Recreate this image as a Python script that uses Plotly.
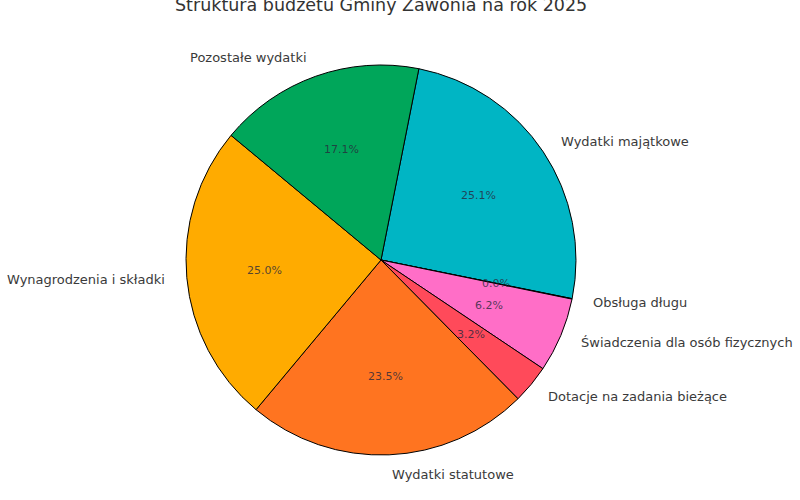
import math
import plotly.graph_objects as go

title = "Struktura budżetu Gminy Zawonia na rok 2025"
categories = ["Wydatki majątkowe", "Obsługa długu", "Świadczenia dla osób fizycznych",
              "Dotacje na zadania bieżące", "Wydatki statutowe", "Wynagrodzenia i składki",
              "Pozostałe wydatki"]
shares = [25.1, 0.04, 6.2, 3.2, 23.5, 25.0, 17.1]
colors = ["#00B5C4", "#2E2E6E", "#FF6EC7", "#FF4A5A", "#FF7420", "#FFAB00", "#00A65A"]

W, H = 800, 500
cx, cy, R = 381, 260, 195
start = 11.2  # degrees clockwise from 12 o'clock

fig = go.Figure(go.Pie(
    labels=categories, values=shares, sort=False, direction="clockwise",
    rotation=start, textinfo="none", hoverinfo="label+percent",
    marker=dict(colors=colors, line=dict(color="#000000", width=1)),
    domain=dict(x=[(cx - R) / W, (cx + R) / W], y=[1 - (cy + R) / H, 1 - (cy - R) / H]),
    showlegend=False,
))

total = sum(shares)
annotations = []
acc = start
for name, v in zip(categories, shares):
    ang = v / total * 360
    mid = math.radians(acc + ang / 2)
    acc += ang
    sx, sy = math.sin(mid), -math.cos(mid)
    # outer label
    lx, ly = cx + 1.1 * R * sx, cy + 1.1 * R * sy
    annotations.append(dict(
        x=lx / W, y=1 - ly / H, xref="paper", yref="paper", text=name, showarrow=False,
        xanchor="left" if sx > 0 else "right", yanchor="middle",
        font=dict(family="DejaVu Sans", size=13, color="#3a3a3a")))
    # percent label
    px, py = cx + 0.6 * R * sx, cy + 0.6 * R * sy
    annotations.append(dict(
        x=px / W, y=1 - py / H, xref="paper", yref="paper", text=f"{v / total * 100:.1f}%",
        showarrow=False, xanchor="center", yanchor="middle",
        font=dict(family="DejaVu Sans", size=11, color="rgba(40,40,60,0.8)")))

annotations.append(dict(
    x=cx / W, y=1 - 5 / H, xref="paper", yref="paper", text=title, showarrow=False,
    xanchor="center", yanchor="middle",
    font=dict(family="DejaVu Sans", size=17.5, color="#333333")))

fig.update_layout(
    width=W, height=H, margin=dict(l=0, r=0, t=0, b=0),
    paper_bgcolor="white", plot_bgcolor="white", annotations=annotations,
)

fig.write_html("out.html", config={"displayModeBar": False},
               post_script="document.body.style.margin='0';")
